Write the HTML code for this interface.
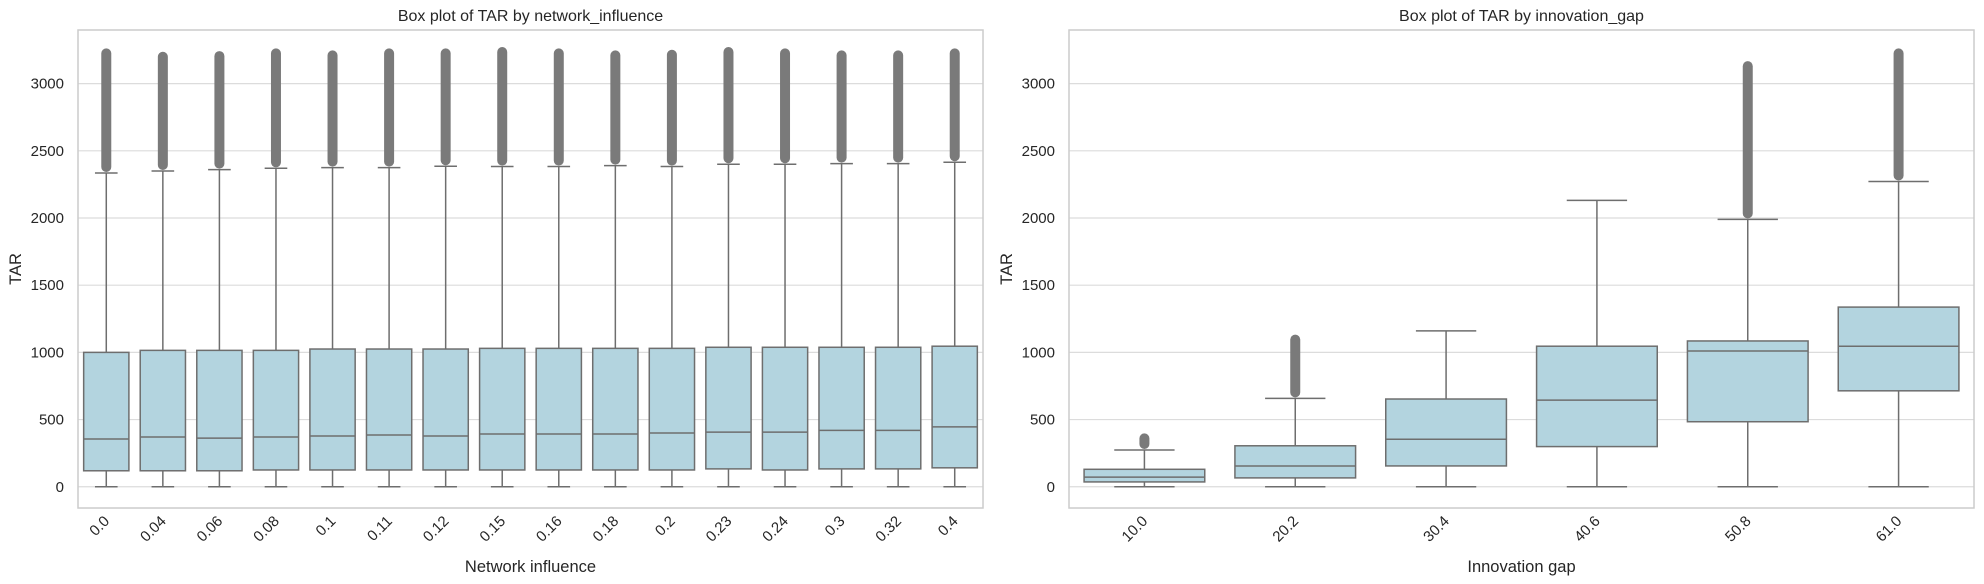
<!DOCTYPE html>
<html><head><meta charset="utf-8"><style>
body{margin:0;background:#fff;}
svg{display:block;font-family:"Liberation Sans",Arial,sans-serif;}
</style></head><body>
<svg id="chart" width="1984" height="584" viewBox="0 0 1984 584" xmlns="http://www.w3.org/2000/svg"></svg>
<script>
// Left panel data
const leftCategories = ["0.0","0.04","0.06","0.08","0.1","0.11","0.12","0.15","0.16","0.18","0.2","0.23","0.24","0.3","0.32","0.4"];
const leftWhiskerLow = [0,0,0,0,0,0,0,0,0,0,0,0,0,0,0,0];
const leftQ1 = [119,119,119,125,125,125,125,125,125,125,125,133,125,133,133,141];
const leftMedian = [355,370,362,370,378,385,378,393,393,393,400,407,407,420,420,446];
const leftQ3 = [1000,1015,1015,1015,1025,1025,1025,1030,1030,1030,1030,1038,1038,1038,1038,1046];
const leftWhiskerHigh = [2335,2350,2360,2370,2375,2375,2385,2383,2383,2390,2383,2400,2400,2405,2405,2415];
const leftOutlierMax = [3225,3200,3205,3225,3210,3225,3225,3235,3225,3210,3215,3235,3225,3210,3210,3225];
// Right panel data
const rightCategories = ["10.0","20.2","30.4","40.6","50.8","61.0"];
const rightWhiskerLow = [0,0,0,0,0,0];
const rightQ1 = [36,66,155,299,484,714];
const rightMedian = [72,155,354,645,1010,1046];
const rightQ3 = [130,305,653,1046,1085,1337];
const rightWhiskerHigh = [274,658,1160,2131,1990,2272];
const rightOutlierMax = [360,1095,null,null,3130,3225];
const yTicks = [0,500,1000,1500,2000,2500,3000];

const svg = document.getElementById('chart');
const NS = 'http://www.w3.org/2000/svg';
function mk(tag, attrs, parent){
  const e = document.createElementNS(NS, tag);
  for (const k in attrs) e.setAttribute(k, attrs[k]);
  (parent||svg).appendChild(e);
  return e;
}
const plotTop = 30, plotBottom = 508, yMin = -158, yMax = 3399;
function yScale(v){ return plotBottom - (v - yMin) / (yMax - yMin) * (plotBottom - plotTop); }

function panel(cfg){
  const g = mk('g', {});
  
  
  const L = cfg.left, R = cfg.right, W = R - L;
  const n = cfg.cats.length, step = W / n;
  const xC = i => L + step * (i + 0.5);
  yTicks.forEach(t => {
    const y = yScale(t);
    const gl = mk('line', {x1:L, x2:R, y1:y, y2:y, stroke:'#dcdcdc', 'stroke-width':1.2}, g);
    
    
    const tl = mk('text', {x:L - 14, y:y + 5, 'text-anchor':'end', 'font-size':15, fill:'#262626'}, g);
    tl.textContent = t;
    
    
  });
  const bw = step * 0.8;
  cfg.cats.forEach((c, i) => {
    const x = xC(i);
    const bg = mk('g', {}, g);
    
    
    const col = '#6e6e6e';
    if (cfg.omax[i] != null) {
      const o1 = yScale(cfg.whi[i]) - 6, o2 = yScale(cfg.omax[i]);
      const ol = mk('line', {x1:x, x2:x, y1:o1, y2:o2, stroke:'#7a7a7a', 'stroke-width':10, 'stroke-linecap':'round'}, bg);
      
      
    }
    mk('line', {x1:x, x2:x, y1:yScale(cfg.wlo[i]), y2:yScale(cfg.q1[i]), stroke:col, 'stroke-width':1.5}, bg);
    mk('line', {x1:x, x2:x, y1:yScale(cfg.q3[i]), y2:yScale(cfg.whi[i]), stroke:col, 'stroke-width':1.5}, bg);
    mk('line', {x1:x - bw/4, x2:x + bw/4, y1:yScale(cfg.wlo[i]), y2:yScale(cfg.wlo[i]), stroke:col, 'stroke-width':1.5}, bg);
    mk('line', {x1:x - bw/4, x2:x + bw/4, y1:yScale(cfg.whi[i]), y2:yScale(cfg.whi[i]), stroke:col, 'stroke-width':1.5}, bg);
    const rect = mk('rect', {x:x - bw/2, y:yScale(cfg.q3[i]), width:bw, height:yScale(cfg.q1[i]) - yScale(cfg.q3[i]), fill:'#b3d4df', stroke:col, 'stroke-width':1.5}, bg);
    
    
    mk('line', {x1:x - bw/2, x2:x + bw/2, y1:yScale(cfg.med[i]), y2:yScale(cfg.med[i]), stroke:col, 'stroke-width':1.5}, bg);
    const tx = mk('text', {x:x + 4, y:522, 'text-anchor':'end', 'font-size':15, fill:'#262626', transform:`rotate(-45 ${x + 4} 522)`}, g);
    tx.textContent = c;
    
    
  });
  const fr = mk('rect', {x:L, y:plotTop, width:W, height:plotBottom - plotTop, fill:'none', stroke:'#cccccc', 'stroke-width':1.5}, g);
  
  
  const ti = mk('text', {x:L + W/2, y:21, 'text-anchor':'middle', 'font-size':16, fill:'#262626'}, g);
  ti.textContent = cfg.title;
  
  
  const xl = mk('text', {x:L + W/2, y:572, 'text-anchor':'middle', 'font-size':16.5, fill:'#262626'}, g);
  xl.textContent = cfg.xlabel;
  
  
  const yx = cfg.ylabelX, yc = (plotTop + plotBottom) / 2;
  const yl = mk('text', {x:yx, y:yc, 'text-anchor':'middle', 'font-size':16.5, fill:'#262626', transform:`rotate(-90 ${yx} ${yc})`}, g);
  yl.textContent = 'TAR';
  
  
}
panel({name:'network-influence-panel', left:78, right:983, cats:leftCategories, wlo:leftWhiskerLow, q1:leftQ1, med:leftMedian, q3:leftQ3, whi:leftWhiskerHigh, omax:leftOutlierMax, title:'Box plot of TAR by network_influence', xlabel:'Network influence', ylabelX:21});
panel({name:'innovation-gap-panel', left:1069, right:1974, cats:rightCategories, wlo:rightWhiskerLow, q1:rightQ1, med:rightMedian, q3:rightQ3, whi:rightWhiskerHigh, omax:rightOutlierMax, title:'Box plot of TAR by innovation_gap', xlabel:'Innovation gap', ylabelX:1012});
</script>
</body></html>
